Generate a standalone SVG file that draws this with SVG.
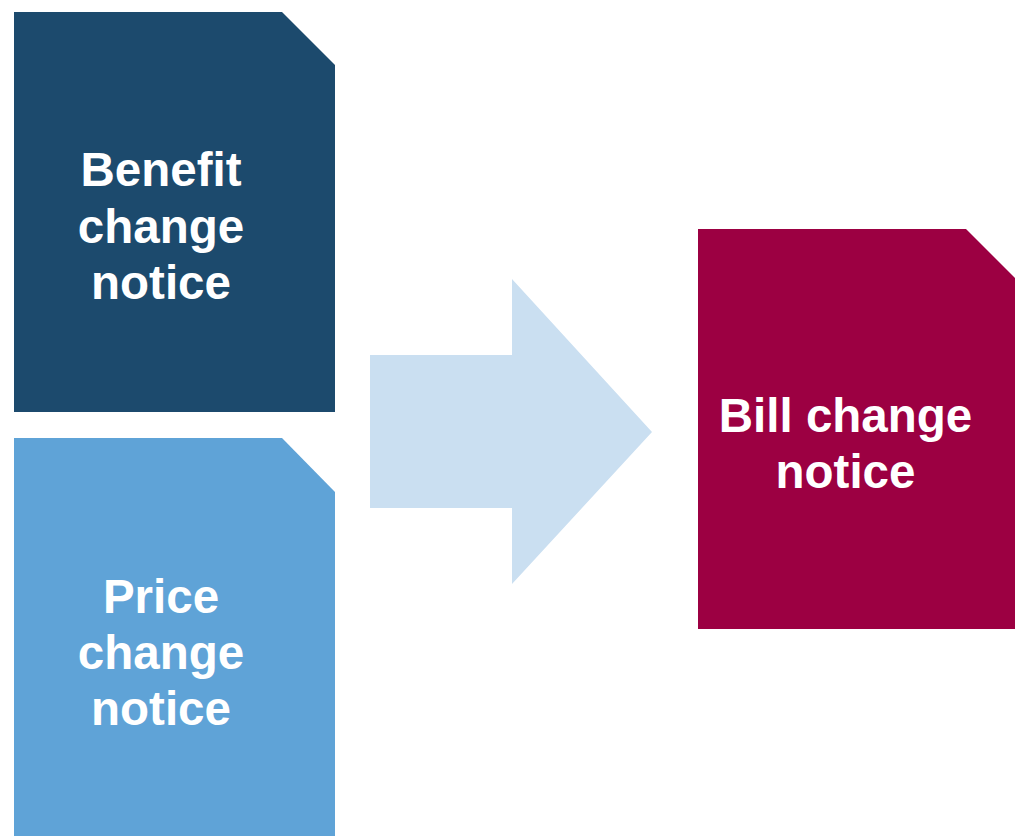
<svg xmlns="http://www.w3.org/2000/svg" width="1015" height="836" viewBox="0 0 1015 836">
  <style>
    .label { font-family: "Liberation Sans", Arial, sans-serif; font-weight: bold; font-size: 47.5px; fill: #FFFFFF; text-anchor: middle; }
  </style>
  <rect width="1015" height="836" fill="#FFFFFF"/>

  <g id="benefit-change-notice">
    <polygon points="14,12 282,12 335,65 335,412 14,412" fill="#1C4A6D"/>
    <text class="label" x="161" y="186">Benefit</text>
    <text class="label" x="161" y="243">change</text>
    <text class="label" x="161" y="299">notice</text>
  </g>

  <g id="price-change-notice">
    <polygon points="14,438 282,438 335,492 335,840 14,840" fill="#5FA3D7"/>
    <text class="label" x="161" y="613">Price</text>
    <text class="label" x="161" y="669">change</text>
    <text class="label" x="161" y="725">notice</text>
  </g>

  <g id="connectors">
    <polygon points="370,355 512,355 512,279 652,432 512,584 512,508 370,508" fill="#CADFF1"/>
  </g>

  <g id="bill-change-notice">
    <polygon points="698,229 966,229 1019,282 1019,629 698,629" fill="#9C0042"/>
    <text class="label" x="845.5" y="432">Bill change</text>
    <text class="label" x="845.5" y="488">notice</text>
  </g>
</svg>
